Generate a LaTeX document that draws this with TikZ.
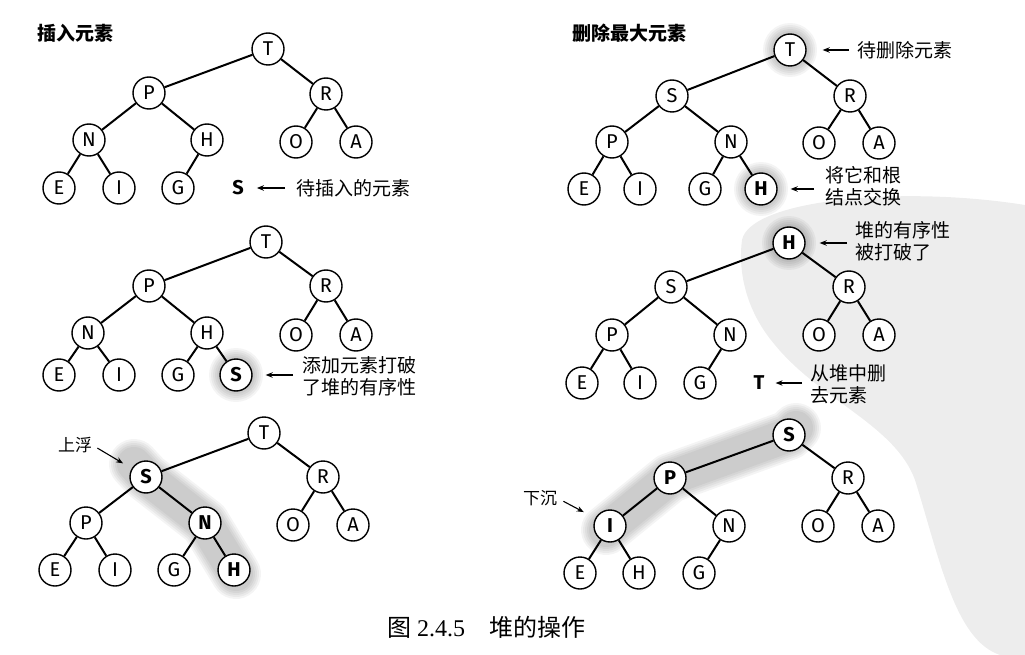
\documentclass[tikz,border=0pt]{standalone}
\usepackage{fontspec}
\setmainfont{Liberation Serif}
\newfontfamily\cjk{Noto Sans CJK SC}
\newfontfamily\lat{Fira Sans}
\usetikzlibrary{arrows.meta}
\tikzset{
  nd/.style={circle, draw, line width=1.4pt, fill=white, minimum size=32pt, inner sep=0pt, font=\lat\fontsize{20}{20}\selectfont},
  bd/.style={nd, font=\lat\bfseries\fontsize{20}{20}\selectfont},
  bt/.style={inner sep=0pt, font=\lat\bfseries\fontsize{20}{20}\selectfont},
  ed/.style={line width=2pt},
  lbl/.style={font=\cjk\fontsize{19}{22}\selectfont, align=left, anchor=west, inner sep=0pt},
  ttl/.style={font=\cjk\bfseries\fontsize{19}{22}\selectfont, anchor=west, inner sep=0pt},
  sml/.style={font=\cjk\fontsize{17}{20}\selectfont, inner sep=0pt},
  arr/.style={line width=1.1pt, -{Stealth[length=7pt,width=5.5pt]}},
  haze/.style={black, opacity=0.045},
  band/.style={black, opacity=0.045, line cap=round, line join=round},
  wm/.style={fill=black!7}
}
\newcommand{\glowat}[1]{\foreach \r in {27,25,23,21,19}{\fill[haze] (#1) circle[radius=\r pt];}}
\begin{document}
\begin{tikzpicture}[x=1pt,y=-1pt]
\useasboundingbox (0,0) rectangle (1025,655);
% watermark
\fill[wm] (742,240) .. controls (750,200) and (900,185) .. (1025,205) -- (1025,655) -- (1000,655)
  .. controls (955,640) and (940,560) .. (915,480) .. controls (895,425) and (820,400) .. (775,345)
  .. controls (745,310) and (738,270) .. (742,240) -- cycle;

% ---------- glows and bands ----------
\glowat{236,375}
\glowat{790,50}
\glowat{761,189}
\glowat{789,243}
\foreach \w in {50,46,42,38,34}{
  \draw[band, line width=\w pt] (134,464) -- (146,477) -- (205,523) -- (236,574);
  \draw[band, line width=\w pt] (606,530) -- (670,478) -- (789,435) -- (796,428);
}

% ---------- panel a: insert ----------
\node[ttl] (a-ttl) at (37,33) {插入元素};
\node[nd] (a-T) at (268,49) {T};
\node[nd] (a-P) at (149,93) {P};
\node[nd] (a-R) at (326,94) {R};
\node[nd] (a-N) at (89,140) {N};
\node[nd] (a-H) at (207,140) {H};
\node[nd] (a-O) at (296,142) {O};
\node[nd] (a-A) at (356,142) {A};
\node[nd] (a-E) at (59,188) {E};
\node[nd] (a-I) at (119,188) {I};
\node[nd] (a-G) at (178,188) {G};
\node[bt] (a-S) at (238,188) {S};
\node[lbl] (a-lab) at (296,188) {待插入的元素};
\foreach \u/\v in {T/P,T/R,P/N,P/H,R/O,R/A,N/E,N/I,H/G}{\draw[ed] (a-\u) -- (a-\v);}
\draw[arr, shorten <=11pt, shorten >=13pt] (a-lab) -- (a-S);

% ---------- panel b ----------
\node[nd] (b-T) at (266,242) {T};
\node[nd] (b-P) at (149,286) {P};
\node[nd] (b-R) at (326,286) {R};
\node[nd] (b-N) at (88,333) {N};
\node[nd] (b-H) at (207,333) {H};
\node[nd] (b-O) at (296,335) {O};
\node[nd] (b-A) at (356,335) {A};
\node[nd] (b-E) at (59,375) {E};
\node[nd] (b-I) at (119,375) {I};
\node[nd] (b-G) at (178,375) {G};
\node[bd] (b-S) at (236,375) {S};
\node[lbl] (b-lab) at (302,376) {添加元素打破\\了堆的有序性};
\foreach \u/\v in {T/P,T/R,P/N,P/H,R/O,R/A,N/E,N/I,H/G,H/S}{\draw[ed] (b-\u) -- (b-\v);}
\draw[arr, shorten <=9pt, shorten >=13pt] (b-lab.west |- b-S) -- (b-S);

% ---------- panel c ----------
\node[nd] (c-T) at (264,433) {T};
\node[bd] (c-S) at (146,477) {S};
\node[nd] (c-R) at (323,477) {R};
\node[nd] (c-P) at (86,523) {P};
\node[bd] (c-N) at (205,523) {N};
\node[nd] (c-O) at (293,525) {O};
\node[nd] (c-A) at (353,525) {A};
\node[nd] (c-E) at (55,570) {E};
\node[nd] (c-I) at (115,570) {I};
\node[nd] (c-G) at (174,570) {G};
\node[bd] (c-H) at (234,570) {H};
\node[sml] (c-lab) at (75,445) {上浮};
\foreach \u/\v in {T/S,T/R,S/P,S/N,R/O,R/A,P/E,P/I,N/G,N/H}{\draw[ed] (c-\u) -- (c-\v);}
\draw[arr, shorten <=6pt, shorten >=10pt] (c-lab.east) -- (c-S);

% ---------- panel d: delete max ----------
\node[ttl] (d-ttl) at (572,33) {删除最大元素};
\node[nd] (d-T) at (790,50) {T};
\node[nd] (d-S) at (672,96) {S};
\node[nd] (d-R) at (850,96) {R};
\node[nd] (d-P) at (612,142) {P};
\node[nd] (d-N) at (731,142) {N};
\node[nd] (d-O) at (819,143) {O};
\node[nd] (d-A) at (879,143) {A};
\node[nd] (d-E) at (584,189) {E};
\node[nd] (d-I) at (640,189) {I};
\node[nd] (d-G) at (705,189) {G};
\node[bd] (d-H) at (761,189) {H};
\node[lbl] (d-lab1) at (857,50) {待删除元素};
\node[lbl] (d-lab2) at (825,186) {将它和根\\结点交换};
\foreach \u/\v in {T/S,T/R,S/P,S/N,R/O,R/A,P/E,P/I,N/G,N/H}{\draw[ed] (d-\u) -- (d-\v);}
\draw[arr, shorten <=8pt, shorten >=16pt] (d-lab1) -- (d-T);
\draw[arr, shorten <=11pt, shorten >=13pt] (d-lab2.west |- d-H) -- (d-H);

% ---------- panel e ----------
\node[bd] (e-H) at (789,243) {H};
\node[nd] (e-S) at (671,287) {S};
\node[nd] (e-R) at (849,287) {R};
\node[nd] (e-P) at (612,335) {P};
\node[nd] (e-N) at (730,335) {N};
\node[nd] (e-O) at (819,335) {O};
\node[nd] (e-A) at (879,335) {A};
\node[nd] (e-E) at (582,383) {E};
\node[nd] (e-I) at (640,383) {I};
\node[nd] (e-G) at (700,383) {G};
\node[bt] (e-T) at (759,383) {T};
\node[lbl] (e-lab1) at (855,241) {堆的有序性\\被打破了};
\node[lbl] (e-lab2) at (810,384) {从堆中删\\去元素};
\foreach \u/\v in {H/S,H/R,S/P,S/N,R/O,R/A,P/E,P/I,N/G}{\draw[ed] (e-\u) -- (e-\v);}
\draw[arr, shorten <=8pt, shorten >=14pt] (e-lab1.west |- e-H) -- (e-H);
\draw[arr, shorten <=8pt, shorten >=11pt] (e-lab2.west |- e-T) -- (e-T);

% ---------- panel f ----------
\node[bd] (f-S) at (789,435) {S};
\node[bd] (f-P) at (670,478) {P};
\node[nd] (f-R) at (848,478) {R};
\node[bd] (f-I) at (610,526) {I};
\node[nd] (f-N) at (729,526) {N};
\node[nd] (f-O) at (818,526) {O};
\node[nd] (f-A) at (878,526) {A};
\node[nd] (f-E) at (580,573) {E};
\node[nd] (f-H) at (639,573) {H};
\node[nd] (f-G) at (699,573) {G};
\node[sml] (f-lab) at (540,498) {下沉};
\foreach \u/\v in {S/P,S/R,P/I,P/N,R/O,R/A,I/E,I/H,N/G}{\draw[ed] (f-\u) -- (f-\v);}
\draw[arr, shorten <=7pt, shorten >=13pt] (f-lab.east) -- (f-I);

% ---------- caption ----------
\node[anchor=west, inner sep=0pt, font=\fontsize{24}{24}\selectfont] (cap) at (387,627) {{\cjk 图} 2.4.5\hspace{24pt}{\cjk 堆的操作}};
\end{tikzpicture}
\end{document}
